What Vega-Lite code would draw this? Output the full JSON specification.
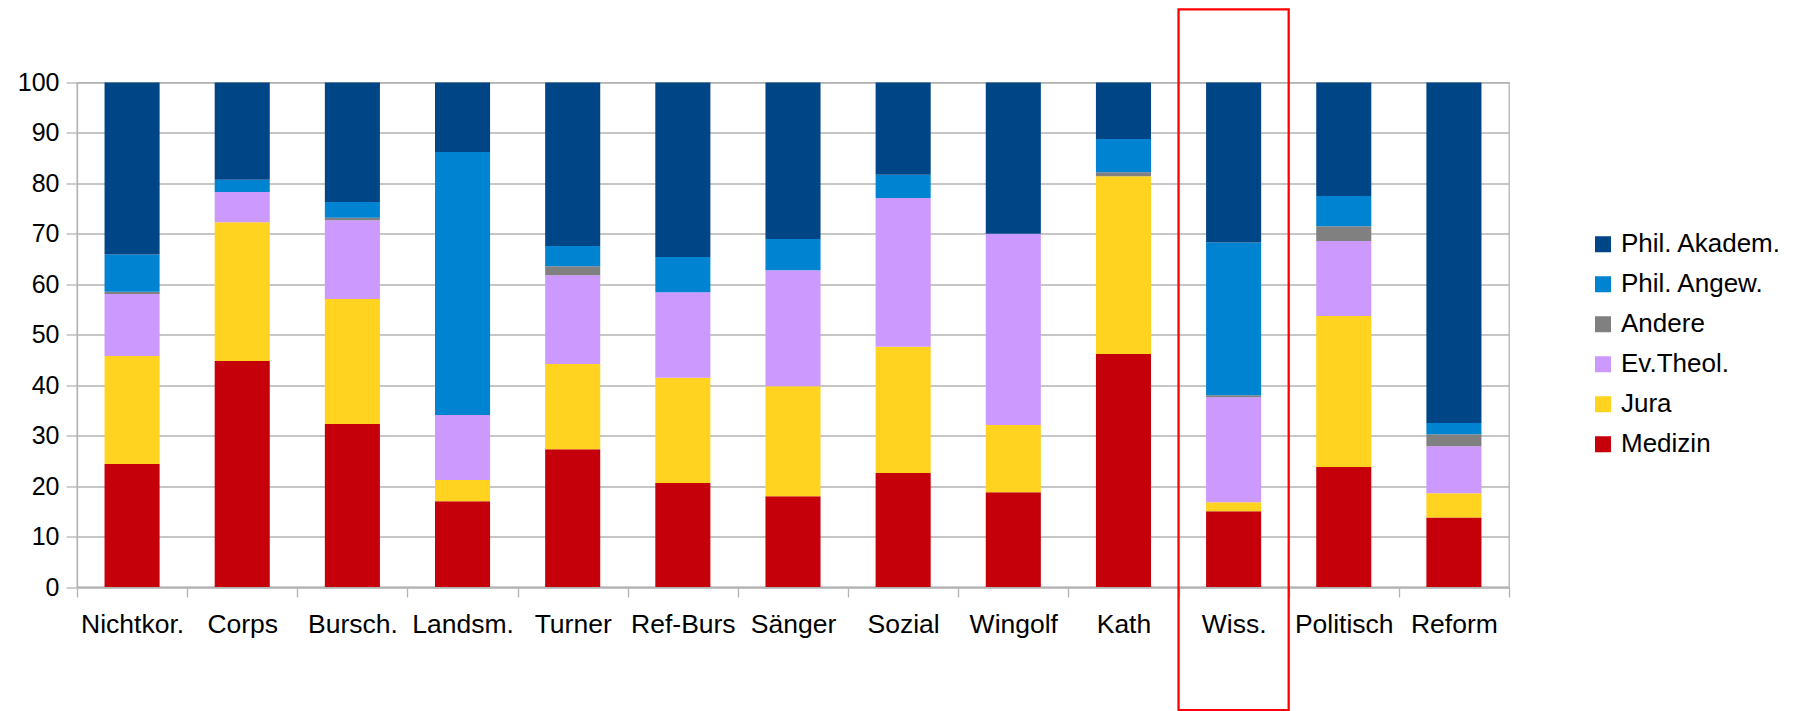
{
  "$schema": "https://vega.github.io/schema/vega-lite/v6.json",
  "width": 1432,
  "height": 504.5,
  "autosize": {"type": "none"},
  "padding": {"left": 77, "top": 82.5, "right": 285, "bottom": 124},
  "background": "#ffffff",
  "config": {
    "font": "Liberation Sans",
    "view": {"stroke": "#b3b3b3", "strokeWidth": 1.3}
  },
  "datasets": {
    "werte": [
      {"Verbindung": "Nichtkor.", "Fach": "Medizin", "Anteil": 24.4},
      {"Verbindung": "Nichtkor.", "Fach": "Jura", "Anteil": 21.4},
      {"Verbindung": "Nichtkor.", "Fach": "Ev.Theol.", "Anteil": 12.3},
      {"Verbindung": "Nichtkor.", "Fach": "Andere", "Anteil": 0.4},
      {"Verbindung": "Nichtkor.", "Fach": "Phil. Angew.", "Anteil": 7.4},
      {"Verbindung": "Nichtkor.", "Fach": "Phil. Akadem.", "Anteil": 34.1},
      {"Verbindung": "Corps", "Fach": "Medizin", "Anteil": 44.8},
      {"Verbindung": "Corps", "Fach": "Jura", "Anteil": 27.5},
      {"Verbindung": "Corps", "Fach": "Ev.Theol.", "Anteil": 6.0},
      {"Verbindung": "Corps", "Fach": "Andere", "Anteil": 0},
      {"Verbindung": "Corps", "Fach": "Phil. Angew.", "Anteil": 2.4},
      {"Verbindung": "Corps", "Fach": "Phil. Akadem.", "Anteil": 19.3},
      {"Verbindung": "Bursch.", "Fach": "Medizin", "Anteil": 32.3},
      {"Verbindung": "Bursch.", "Fach": "Jura", "Anteil": 24.8},
      {"Verbindung": "Bursch.", "Fach": "Ev.Theol.", "Anteil": 15.6},
      {"Verbindung": "Bursch.", "Fach": "Andere", "Anteil": 0.5},
      {"Verbindung": "Bursch.", "Fach": "Phil. Angew.", "Anteil": 3.1},
      {"Verbindung": "Bursch.", "Fach": "Phil. Akadem.", "Anteil": 23.7},
      {"Verbindung": "Landsm.", "Fach": "Medizin", "Anteil": 17.0},
      {"Verbindung": "Landsm.", "Fach": "Jura", "Anteil": 4.2},
      {"Verbindung": "Landsm.", "Fach": "Ev.Theol.", "Anteil": 12.9},
      {"Verbindung": "Landsm.", "Fach": "Andere", "Anteil": 0},
      {"Verbindung": "Landsm.", "Fach": "Phil. Angew.", "Anteil": 52.1},
      {"Verbindung": "Landsm.", "Fach": "Phil. Akadem.", "Anteil": 13.8},
      {"Verbindung": "Turner", "Fach": "Medizin", "Anteil": 27.3},
      {"Verbindung": "Turner", "Fach": "Jura", "Anteil": 16.9},
      {"Verbindung": "Turner", "Fach": "Ev.Theol.", "Anteil": 17.6},
      {"Verbindung": "Turner", "Fach": "Andere", "Anteil": 1.8},
      {"Verbindung": "Turner", "Fach": "Phil. Angew.", "Anteil": 4.0},
      {"Verbindung": "Turner", "Fach": "Phil. Akadem.", "Anteil": 32.4},
      {"Verbindung": "Ref-Burs", "Fach": "Medizin", "Anteil": 20.6},
      {"Verbindung": "Ref-Burs", "Fach": "Jura", "Anteil": 20.9},
      {"Verbindung": "Ref-Burs", "Fach": "Ev.Theol.", "Anteil": 16.9},
      {"Verbindung": "Ref-Burs", "Fach": "Andere", "Anteil": 0},
      {"Verbindung": "Ref-Burs", "Fach": "Phil. Angew.", "Anteil": 7.0},
      {"Verbindung": "Ref-Burs", "Fach": "Phil. Akadem.", "Anteil": 34.6},
      {"Verbindung": "Sänger", "Fach": "Medizin", "Anteil": 18.0},
      {"Verbindung": "Sänger", "Fach": "Jura", "Anteil": 21.8},
      {"Verbindung": "Sänger", "Fach": "Ev.Theol.", "Anteil": 23.0},
      {"Verbindung": "Sänger", "Fach": "Andere", "Anteil": 0},
      {"Verbindung": "Sänger", "Fach": "Phil. Angew.", "Anteil": 6.2},
      {"Verbindung": "Sänger", "Fach": "Phil. Akadem.", "Anteil": 31.0},
      {"Verbindung": "Sozial", "Fach": "Medizin", "Anteil": 22.6},
      {"Verbindung": "Sozial", "Fach": "Jura", "Anteil": 25.0},
      {"Verbindung": "Sozial", "Fach": "Ev.Theol.", "Anteil": 29.5},
      {"Verbindung": "Sozial", "Fach": "Andere", "Anteil": 0},
      {"Verbindung": "Sozial", "Fach": "Phil. Angew.", "Anteil": 4.6},
      {"Verbindung": "Sozial", "Fach": "Phil. Akadem.", "Anteil": 18.3},
      {"Verbindung": "Wingolf", "Fach": "Medizin", "Anteil": 18.8},
      {"Verbindung": "Wingolf", "Fach": "Jura", "Anteil": 13.3},
      {"Verbindung": "Wingolf", "Fach": "Ev.Theol.", "Anteil": 37.9},
      {"Verbindung": "Wingolf", "Fach": "Andere", "Anteil": 0},
      {"Verbindung": "Wingolf", "Fach": "Phil. Angew.", "Anteil": 0},
      {"Verbindung": "Wingolf", "Fach": "Phil. Akadem.", "Anteil": 30.0},
      {"Verbindung": "Kath", "Fach": "Medizin", "Anteil": 46.2},
      {"Verbindung": "Kath", "Fach": "Jura", "Anteil": 35.2},
      {"Verbindung": "Kath", "Fach": "Ev.Theol.", "Anteil": 0},
      {"Verbindung": "Kath", "Fach": "Andere", "Anteil": 0.8},
      {"Verbindung": "Kath", "Fach": "Phil. Angew.", "Anteil": 6.6},
      {"Verbindung": "Kath", "Fach": "Phil. Akadem.", "Anteil": 11.2},
      {"Verbindung": "Wiss.", "Fach": "Medizin", "Anteil": 15.0},
      {"Verbindung": "Wiss.", "Fach": "Jura", "Anteil": 1.8},
      {"Verbindung": "Wiss.", "Fach": "Ev.Theol.", "Anteil": 20.8},
      {"Verbindung": "Wiss.", "Fach": "Andere", "Anteil": 0.4},
      {"Verbindung": "Wiss.", "Fach": "Phil. Angew.", "Anteil": 30.3},
      {"Verbindung": "Wiss.", "Fach": "Phil. Akadem.", "Anteil": 31.7},
      {"Verbindung": "Politisch", "Fach": "Medizin", "Anteil": 23.8},
      {"Verbindung": "Politisch", "Fach": "Jura", "Anteil": 29.9},
      {"Verbindung": "Politisch", "Fach": "Ev.Theol.", "Anteil": 14.9},
      {"Verbindung": "Politisch", "Fach": "Andere", "Anteil": 2.9},
      {"Verbindung": "Politisch", "Fach": "Phil. Angew.", "Anteil": 6.0},
      {"Verbindung": "Politisch", "Fach": "Phil. Akadem.", "Anteil": 22.5},
      {"Verbindung": "Reform", "Fach": "Medizin", "Anteil": 13.8},
      {"Verbindung": "Reform", "Fach": "Jura", "Anteil": 4.8},
      {"Verbindung": "Reform", "Fach": "Ev.Theol.", "Anteil": 9.3},
      {"Verbindung": "Reform", "Fach": "Andere", "Anteil": 2.4},
      {"Verbindung": "Reform", "Fach": "Phil. Angew.", "Anteil": 2.2},
      {"Verbindung": "Reform", "Fach": "Phil. Akadem.", "Anteil": 67.5}
    ],
    "markierung": [
      {"Verbindung": "Wiss.", "oben": 114.5, "unten": -24.4}
    ]
  },
  "layer": [
    {
      "data": {"name": "werte"},
      "transform": [
        {"calculate": "indexof(['Medizin','Jura','Ev.Theol.','Andere','Phil. Angew.','Phil. Akadem.'], datum.Fach)", "as": "rang"}
      ],
      "mark": {"type": "bar", "strokeWidth": 0, "width": {"band": 0.5}},
      "encoding": {
        "x": {
          "field": "Verbindung",
          "type": "nominal",
          "title": null,
          "scale": {
            "domain": ["Nichtkor.", "Corps", "Bursch.", "Landsm.", "Turner", "Ref-Burs", "Sänger", "Sozial", "Wingolf", "Kath", "Wiss.", "Politisch", "Reform"],
            "paddingInner": 0,
            "paddingOuter": 0
          },
          "axis": {
            "labelAngle": 0,
            "labelFontSize": 26.5,
            "labelColor": "#000000",
            "labelPadding": 14,
            "labelOverlap": false,
            "labelLimit": 0,
            "tickBand": "extent",
            "tickSize": 10,
            "tickColor": "#b3b3b3",
            "tickWidth": 1.3,
            "domainColor": "#b3b3b3",
            "domainWidth": 1.3,
            "grid": false
          }
        },
        "y": {
          "field": "Anteil",
          "type": "quantitative",
          "stack": "zero",
          "title": null,
          "scale": {"domain": [0, 100], "nice": false, "zero": true},
          "axis": {
            "tickCount": 10,
            "labelFontSize": 25,
            "labelColor": "#000000",
            "labelPadding": 7,
            "tickSize": 11,
            "tickColor": "#b3b3b3",
            "tickWidth": 1.3,
            "domainColor": "#b3b3b3",
            "domainWidth": 1.3,
            "grid": true,
            "gridColor": "#b3b3b3",
            "gridWidth": 1.3
          }
        },
        "color": {
          "field": "Fach",
          "type": "nominal",
          "scale": {
            "domain": ["Phil. Akadem.", "Phil. Angew.", "Andere", "Ev.Theol.", "Jura", "Medizin"],
            "range": ["#004586", "#0084d1", "#808080", "#cc99ff", "#ffd320", "#c5000b"]
          },
          "legend": {
            "title": null,
            "orient": "none",
            "legendX": 1513,
            "legendY": 142,
            "padding": 0,
            "symbolType": "square",
            "symbolSize": 256,
            "symbolStrokeWidth": 0,
            "symbolOpacity": 1,
            "labelFontSize": 26,
            "labelColor": "#000000",
            "labelOffset": 5,
            "labelLimit": 0,
            "clipHeight": 39.6,
            "rowPadding": 0
          }
        },
        "order": {"field": "rang", "type": "quantitative", "sort": "ascending"}
      }
    },
    {
      "data": {"name": "markierung"},
      "mark": {"type": "bar", "fillOpacity": 0, "stroke": "#ff0000", "strokeWidth": 2.3},
      "encoding": {
        "x": {"field": "Verbindung", "type": "nominal"},
        "y": {"field": "oben", "type": "quantitative"},
        "y2": {"field": "unten"}
      }
    }
  ]
}
